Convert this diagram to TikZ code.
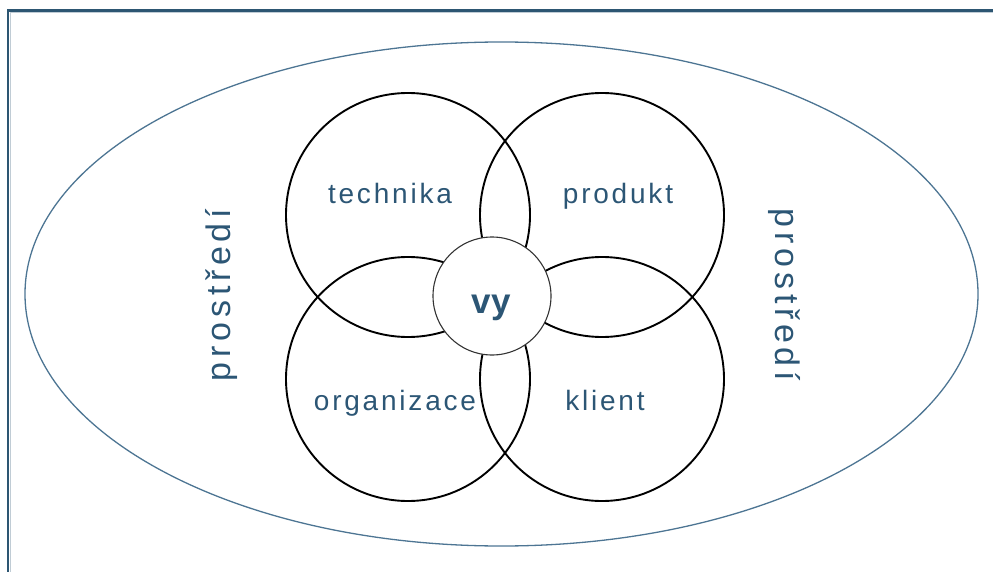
\documentclass[tikz,border=0pt]{standalone}
\usepackage{fontspec}
\setmainfont{Liberation Sans}
\newfontfamily\lblfont[LetterSpace=10]{Liberation Sans}
\newfontfamily\envfont[LetterSpace=14]{Liberation Sans}
\definecolor{txtblue}{RGB}{44,86,117}
\definecolor{ellblue}{RGB}{77,117,147}
\definecolor{framec}{RGB}{45,86,114}
\tikzset{
  bigcircle/.style={circle, draw=black, line width=1.9pt, minimum size=244pt, inner sep=0pt},
  youcircle/.style={circle, draw=black!80, fill=white, line width=1.1pt, minimum size=118pt, inner sep=0pt},
  lbl/.style={text=txtblue, font=\lblfont\fontsize{28pt}{30pt}\selectfont, anchor=base, inner sep=0pt},
  envlbl/.style={text=txtblue, font=\envfont\fontsize{34pt}{36pt}\selectfont, anchor=base, inner sep=0pt},
  env/.style={ellipse, draw=ellblue, line width=1.3pt, minimum width=953pt, minimum height=504pt, inner sep=0pt},
  frameline/.style={draw=framec, line width=2.2pt}
}
\usetikzlibrary{shapes.geometric}
\begin{document}
\begin{tikzpicture}[x=1pt,y=-1pt]
\useasboundingbox (0,0) rectangle (993,572);
% frame
\coordinate (ftr) at (993,10.5);
\coordinate (ftl) at (8,10.5);
\coordinate (fbl) at (8,572);
\draw[frameline] (ftr) -- (ftl) -- (fbl);
\draw[draw=framec!30, line width=0.8pt] (993,12.4) -- (9.9,12.4) -- (9.9,572);
% environment
\node[env] (envir) at (501.5,294) {};
% four circles
\node[bigcircle] (tech) at (408,215) {};
\node[bigcircle] (prod) at (602,215) {};
\node[bigcircle] (org) at (408,379) {};
\node[bigcircle] (kli) at (602,379) {};
% center
\node[youcircle] (you) at (492,296) {};
% labels
\node[lbl] (ltech) at (390,204) {technika};
\node[lbl] (lprod) at (618,204) {produkt};
\node[lbl] (lorg) at (395,410) {organizace};
\node[lbl] (lkli) at (605,410) {klient};
\node[text=txtblue, font=\bfseries\fontsize{35pt}{37pt}\selectfont, anchor=base, inner sep=0pt] (lyou) at (491,313) {vy};
\node[envlbl, rotate=90] (lenvl) at (230,295) {prostředí};
\node[envlbl, rotate=-90] (lenvr) at (775,295) {prostředí};
\end{tikzpicture}
\end{document}
